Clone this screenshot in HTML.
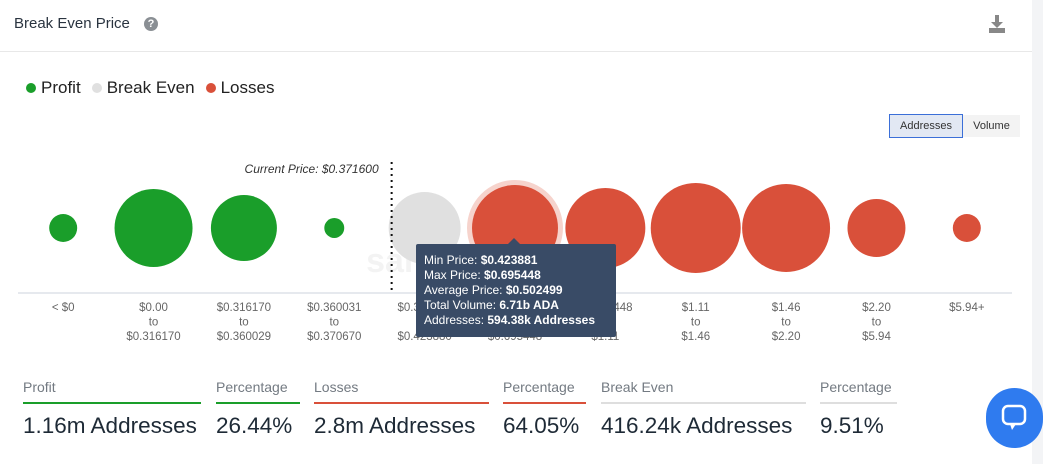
<!DOCTYPE html>
<html><head><meta charset="utf-8"><style>
body{margin:0;width:1043px;height:464px;overflow:hidden;background:#f3f4f6;font-family:"Liberation Sans",sans-serif;position:relative}
#card{position:absolute;left:0;top:0;width:1032px;height:464px;background:#fff}
.abs{position:absolute}
.lab{font-size:14px;color:#737a82}
.val{font-size:22.5px;color:#1e2a36}
.bar{height:2px}
</style></head><body>
<div id="card">
<div class="abs" style="left:14px;top:15px;font-size:15px;color:#2a3440">Break Even Price</div>
<div class="abs" style="left:144px;top:17px;width:14px;height:14px;border-radius:50%;background:#8a8f94;color:#fff;font-size:11px;font-weight:bold;text-align:center;line-height:14px">?</div>
<svg class="abs" style="left:988px;top:14px" width="18" height="20"><rect x="7" y="1" width="4" height="8" fill="#888"/><polygon points="3,8 15,8 9,14" fill="#888"/><rect x="1" y="14" width="16" height="5" fill="#888"/></svg>
<div class="abs" style="left:0;top:51px;width:1032px;height:1px;background:#e8e8e8"></div>
<div class="abs" style="left:26px;top:78px;font-size:17px;color:#222;display:flex;align-items:center;gap:5px">
<span style="width:10px;height:10px;border-radius:50%;background:#1a9e2a"></span><span>Profit</span>
<span style="width:10px;height:10px;border-radius:50%;background:#e0e0e0;margin-left:6px"></span><span>Break Even</span>
<span style="width:10px;height:10px;border-radius:50%;background:#d9503a;margin-left:6px"></span><span>Losses</span>
</div>
<div class="abs" style="left:889px;top:114px;width:72px;height:22px;border:1px solid #3b6fd8;background:#e2e8f3;font-size:11px;color:#333;text-align:center;line-height:22px">Addresses</div>
<div class="abs" style="left:963px;top:115px;width:57px;height:22px;background:#f3f3f3;font-size:11px;color:#333;text-align:center;line-height:22px">Volume</div>
<svg id="chart" class="abs" style="left:0;top:0" width="1032" height="350"></svg>
<div class="abs" style="left:416px;top:244px;width:200px;height:93px;background:#394b66;border-radius:2px;color:#fff;font-size:12px;line-height:15px;padding:9px 0 0 8px;box-sizing:border-box">
Min Price: <b>$0.423881</b><br>Max Price: <b>$0.695448</b><br>Average Price: <b>$0.502499</b><br>Total Volume: <b>6.71b ADA</b><br>Addresses: <b>594.38k Addresses</b></div>
<div class="abs" style="left:508px;top:238px;width:0;height:0;border-left:6px solid transparent;border-right:6px solid transparent;border-bottom:6px solid #394b66"></div>
<div class="abs lab" style="left:23px;top:379px">Profit</div>
<div class="abs bar" style="left:23px;top:402px;width:178px;background:#1a9e2a"></div>
<div class="abs val" style="left:23px;top:413px">1.16m Addresses</div>
<div class="abs lab" style="left:216px;top:379px">Percentage</div>
<div class="abs bar" style="left:216px;top:402px;width:84px;background:#1a9e2a"></div>
<div class="abs val" style="left:216px;top:413px">26.44%</div>
<div class="abs lab" style="left:314px;top:379px">Losses</div>
<div class="abs bar" style="left:314px;top:402px;width:175px;background:#d9503a"></div>
<div class="abs val" style="left:314px;top:413px">2.8m Addresses</div>
<div class="abs lab" style="left:503px;top:379px">Percentage</div>
<div class="abs bar" style="left:503px;top:402px;width:83px;background:#d9503a"></div>
<div class="abs val" style="left:503px;top:413px">64.05%</div>
<div class="abs lab" style="left:601px;top:379px">Break Even</div>
<div class="abs bar" style="left:601px;top:402px;width:205px;background:#dedede"></div>
<div class="abs val" style="left:601px;top:413px">416.24k Addresses</div>
<div class="abs lab" style="left:820px;top:379px">Percentage</div>
<div class="abs bar" style="left:820px;top:402px;width:77px;background:#dedede"></div>
<div class="abs val" style="left:820px;top:413px">9.51%</div>
</div>
<div class="abs" style="left:986px;top:388px;width:57px;height:60px;border-radius:30px;background:#2f7bef">
<svg width="30" height="30" style="position:absolute;left:14px;top:15px"><rect x="3" y="3" width="22" height="18" rx="5" fill="none" stroke="#fff" stroke-width="2.5"/><polygon points="10,21 16,21 12,27" fill="#fff"/></svg></div>
<script>
const categories=["< $0","$0.00|to|$0.316170","$0.316170|to|$0.360029","$0.360031|to|$0.370670","$0.370670|to|$0.423880","$0.423881|to|$0.695448","$0.695448|to|$1.11","$1.11|to|$1.46","$1.46|to|$2.20","$2.20|to|$5.94","$5.94+"];
const addressesK=[63,489,350,32,416,594,514,651,622,270,63];
const groups=["profit","profit","profit","profit","even","loss","loss","loss","loss","loss","loss"];
const currentPrice="$0.371600";
const colors={profit:"#1a9e2a",even:"#e0e0e0",loss:"#d9503a"};
const svg=document.getElementById('chart');const NS="http://www.w3.org/2000/svg";
const x0=18,x1=1012,cy=228,axisY=293;
const step=(x1-x0)/categories.length;
const xs=i=>x0+step*(i+0.5);
const maxV=Math.max(...addressesK);
const r=v=>45*Math.sqrt(v/maxV);
function mk(t,a){const e=document.createElementNS(NS,t);for(const k in a)e.setAttribute(k,a[k]);svg.appendChild(e);return e;}
const ax=mk('line',{x1:x0,x2:x1,y1:axisY,y2:axisY,stroke:'#ccd3de'});


const wm=mk('text',{x:470,y:272,'font-size':34,'font-weight':'bold',fill:'#f3f3f3','text-anchor':'middle'});wm.textContent="santiment  ck";


categories.forEach((c,i)=>{
 const g=groups[i];
 if(i===5){const h=mk('circle',{cx:xs(i),cy:cy,r:r(addressesK[i])+5,fill:'#f6d3cc'});}
 const b=mk('circle',{cx:xs(i),cy:cy,r:r(addressesK[i]),fill:colors[g]});
 
 
 c.split('|').forEach((ln,j)=>{const t=mk('text',{x:xs(i),y:axisY+18+j*14.5,'font-size':11.5,fill:'#666','text-anchor':'middle'});t.textContent=ln;
 
 });
});
const px=xs(4)-33;
const dl=mk('line',{x1:px,x2:px,y1:162,y2:axisY,stroke:'#111','stroke-width':2,'stroke-dasharray':'2,4'});


const ct=mk('text',{x:px-13,y:173,'font-size':12,'font-style':'italic',fill:'#333','text-anchor':'end'});ct.textContent="Current Price: "+currentPrice;


</script>
</body></html>
